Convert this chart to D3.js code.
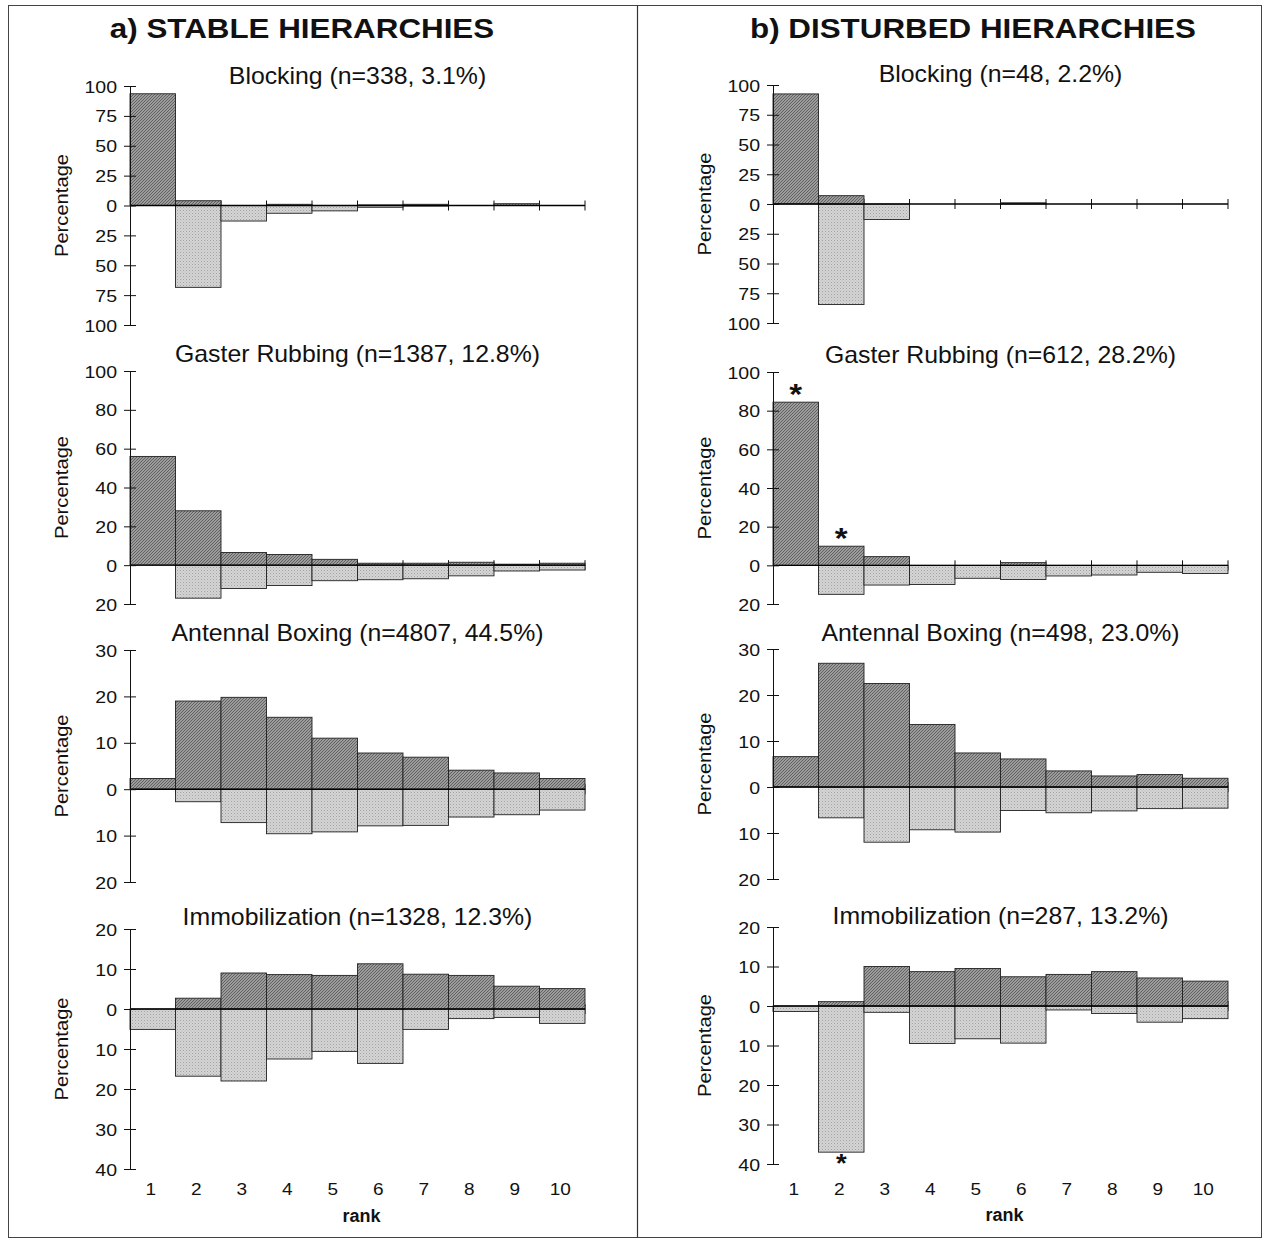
<!DOCTYPE html>
<html><head><meta charset="utf-8">
<script src="https://cdn.jsdelivr.net/npm/d3@7"></script>
<style>
html,body{margin:0;padding:0;background:#fff;}
text{font-family:"Liberation Sans",Arial,sans-serif;fill:#111;}
</style></head>
<body>
<svg id="chart" width="1266" height="1241"></svg>
<script>
// ---------- DATA ----------
const ranks = ["1","2","3","4","5","6","7","8","9","10"];
const columnTitles = ["a) STABLE HIERARCHIES", "b) DISTURBED HIERARCHIES"];
const panelTitlesStable = ["Blocking (n=338, 3.1%)", "Gaster Rubbing (n=1387, 12.8%)", "Antennal Boxing (n=4807, 44.5%)", "Immobilization (n=1328, 12.3%)"];
const panelTitlesDisturbed = ["Blocking (n=48, 2.2%)", "Gaster Rubbing (n=612, 28.2%)", "Antennal Boxing (n=498, 23.0%)", "Immobilization (n=287, 13.2%)"];

// upward (performed, dark) and downward (received, light) percentages by rank
const blockingStableUp   = [93.5, 4, 0, 1, 0, 0.5, 1, 0, 1.5, 0];
const blockingStableDown = [0, 68.5, 13, 6.5, 4.5, 1.5, 0.5, 0, 0, 0];
const gasterStableUp     = [56, 28, 6.5, 5.5, 3, 1, 1, 1.5, 0.5, 1];
const gasterStableDown   = [0, 17, 12, 10.5, 8, 7.5, 7, 5.5, 3, 2.5];
const antennalStableUp   = [2.3, 19, 19.8, 15.5, 11, 7.8, 6.9, 4.1, 3.5, 2.3];
const antennalStableDown = [0, 2.7, 7.2, 9.6, 9.2, 7.9, 7.8, 6, 5.5, 4.5];
const immobStableUp      = [0, 2.7, 9, 8.6, 8.4, 11.3, 8.7, 8.4, 5.7, 5.1];
const immobStableDown    = [5.1, 16.8, 18, 12.5, 10.6, 13.6, 5.1, 2.4, 2.1, 3.6];

const blockingDistUp     = [92.5, 7, 0, 0, 0, 1, 0, 0, 0, 0];
const blockingDistDown   = [0, 84.5, 13, 0, 0, 0, 0, 0, 0, 0];
const gasterDistUp       = [84.4, 9.9, 4.5, 0, 0, 1.4, 0, 0, 0, 0];
const gasterDistDown     = [0, 15, 10.2, 9.9, 6.7, 7.3, 5.5, 5, 3.6, 4.2];
const antennalDistUp     = [6.6, 26.9, 22.5, 13.6, 7.4, 6.1, 3.5, 2.4, 2.7, 1.9];
const antennalDistDown   = [0, 6.7, 12, 9.3, 9.8, 5.1, 5.6, 5.2, 4.7, 4.6];
const immobDistUp        = [0, 1.1, 10, 8.7, 9.5, 7.4, 8, 8.7, 7.1, 6.3];
const immobDistDown      = [1.4, 37, 1.6, 9.5, 8.3, 9.4, 1, 1.9, 4.1, 3.2];

// y-axis tick labels per row (positive above zero, negative below)
const ticksBlocking = [100, 75, 50, 25, 0, -25, -50, -75, -100];
const ticksGaster   = [100, 80, 60, 40, 20, 0, -20];
const ticksAntennal = [30, 20, 10, 0, -10, -20];
const ticksImmob    = [20, 10, 0, -10, -20, -30, -40];

// significance markers: [panel index, rank, side]
const starsDisturbed = [[1, "1", "up"], [1, "2", "up"], [3, "2", "down"]];

// ---------- LAYOUT ----------
const svg = d3.select("#chart");

function txt(g, x, y, s, size, opts = {}) {
  const t = g.append("text")
    .attr("transform", `translate(${x},${y})` + (opts.rotate ? ` rotate(${opts.rotate})` : "") + ` scale(${opts.sx || 1.12},1)`)
    .attr("text-anchor", opts.anchor || "middle")
    .attr("font-size", size)
    .attr("font-weight", opts.weight || "normal")
    .text(s);
  if (opts.baseline) t.attr("dominant-baseline", opts.baseline);
  return t;
}

// patterns
const defs = svg.append("defs");
const pd = defs.append("pattern").attr("id", "dark").attr("patternUnits", "userSpaceOnUse")
  .attr("width", 3).attr("height", 3);
pd.append("rect").attr("width", 3).attr("height", 3).attr("fill", "#9c9c9c");
pd.append("path").attr("d", "M0,3 L3,0 M-1,1 L1,-1 M2,4 L4,2").attr("stroke", "#5a5a5a").attr("stroke-width", 0.9);
const pl = defs.append("pattern").attr("id", "light").attr("patternUnits", "userSpaceOnUse")
  .attr("width", 3).attr("height", 3);
pl.append("rect").attr("width", 3).attr("height", 3).attr("fill", "#d4d4d4");
pl.append("rect").attr("x", 0).attr("y", 0).attr("width", 1).attr("height", 1).attr("fill", "#a3a3a3");
pl.append("rect").attr("x", 1.5).attr("y", 1.5).attr("width", 1).attr("height", 1).attr("fill", "#bbbbbb");

// frame
svg.append("rect").attr("x", 8.5).attr("y", 5.5).attr("width", 1253).attr("height", 1232)
  .attr("fill", "none").attr("stroke", "#444").attr("stroke-width", 1);
svg.append("line").attr("x1", 637.5).attr("x2", 637.5).attr("y1", 5.5).attr("y2", 1237.5)
  .attr("stroke", "#333").attr("stroke-width", 1.2);

const columns = [
  { axisX: 130, titleX: 302, title: columnTitles[0], subtitles: panelTitlesStable,
    subY: [84, 362, 641, 925],
    rows: [
      { top: 86, bottom: 325, ticks: ticksBlocking, up: blockingStableUp, down: blockingStableDown },
      { top: 371, bottom: 604, ticks: ticksGaster, up: gasterStableUp, down: gasterStableDown },
      { top: 650, bottom: 882, ticks: ticksAntennal, up: antennalStableUp, down: antennalStableDown },
      { top: 929, bottom: 1169, ticks: ticksImmob, up: immobStableUp, down: immobStableDown }],
    stars: [], labelY: 1195, rankY: 1222 },
  { axisX: 773, titleX: 973, title: columnTitles[1], subtitles: panelTitlesDisturbed,
    subY: [82, 363, 641, 924],
    rows: [
      { top: 85, bottom: 323, ticks: ticksBlocking, up: blockingDistUp, down: blockingDistDown },
      { top: 372, bottom: 604, ticks: ticksGaster, up: gasterDistUp, down: gasterDistDown },
      { top: 649, bottom: 879, ticks: ticksAntennal, up: antennalDistUp, down: antennalDistDown },
      { top: 927, bottom: 1164, ticks: ticksImmob, up: immobDistUp, down: immobDistDown }],
    stars: starsDisturbed, labelY: 1195, rankY: 1221 }
];
const plotW = 455;

columns.forEach(col => {
  const g = svg.append("g");
  txt(g, col.titleX, 38, col.title, 28, { weight: "bold", sx: 1.12 });
  const x = d3.scaleBand().domain(ranks).range([col.axisX, col.axisX + plotW]).paddingInner(0).paddingOuter(0);
  const xb = d3.scaleLinear().domain([0, ranks.length]).range([col.axisX, col.axisX + plotW]);

  col.rows.forEach((r, ri) => {
    const tmax = d3.max(r.ticks), tmin = d3.min(r.ticks);
    const y = d3.scaleLinear().domain([tmin, tmax]).range([r.bottom, r.top]);
    const pg = g.append("g");
    txt(pg, col.axisX + plotW / 2, col.subY[ri], col.subtitles[ri], 23, { sx: 1.08 });

    // x boundary ticks on zero line
    pg.selectAll("line.xt").data(d3.range(1, ranks.length + 1)).join("line")
      .attr("x1", d => xb(d)).attr("x2", d => xb(d))
      .attr("y1", y(0) - 5).attr("y2", y(0) + 5)
      .attr("stroke", "#111").attr("stroke-width", 1);

    const rows = ranks.map((k, i) => ({ k, up: r.up[i], down: r.down[i] }));
    // downward bars (light)
    pg.selectAll("rect.dn").data(rows.filter(d => d.down > 0)).join("rect")
      .attr("x", d => x(d.k)).attr("width", x.bandwidth())
      .attr("y", y(0)).attr("height", d => y(-d.down) - y(0))
      .attr("fill", "url(#light)").attr("stroke", "#222").attr("stroke-width", 0.9);
    // upward bars (dark)
    pg.selectAll("rect.up").data(rows.filter(d => d.up > 0)).join("rect")
      .attr("x", d => x(d.k)).attr("width", x.bandwidth())
      .attr("y", d => y(d.up)).attr("height", d => y(0) - y(d.up))
      .attr("fill", "url(#dark)").attr("stroke", "#222").attr("stroke-width", 0.9);

    // zero line
    pg.append("line").attr("x1", col.axisX).attr("x2", col.axisX + plotW)
      .attr("y1", y(0)).attr("y2", y(0)).attr("stroke", "#000").attr("stroke-width", 1.4);

    // y axis
    const ax = d3.axisLeft(y).tickValues(r.ticks).tickFormat(d => Math.abs(d)).tickSize(6).tickSizeOuter(0).tickPadding(8);
    const ag = pg.append("g").attr("transform", `translate(${col.axisX},0)`).call(ax);
    ag.select(".domain").attr("stroke", "#111").attr("stroke-width", 1);
    ag.selectAll(".tick line").attr("x2", 6).attr("x1", -6).attr("stroke", "#111");
    ag.selectAll(".tick text").each(function (d) {
      d3.select(this).attr("x", null).attr("dy", null)
        .attr("transform", `translate(-13,6) scale(1.15,1)`)
        .attr("font-size", 17).attr("text-anchor", "end")
        .attr("font-family", '"Liberation Sans", Arial, sans-serif').attr("fill", "#111");
    });

    txt(pg, col.axisX - 67, (r.top + r.bottom) / 2, "Percentage", 18, { rotate: -90, baseline: "middle", sx: 1.12 });

    // stars
    col.stars.filter(s => s[0] === ri).forEach(s => {
      const i = ranks.indexOf(s[1]);
      const yy = s[2] === "up" ? y(r.up[i]) + 2 : y(-r.down[i]) + 20;
      txt(pg, x(s[1]) + x.bandwidth() / 2, yy, "*", s[2] === "up" ? 30 : 25, { weight: "bold", sx: 1.1 });
    });

    if (ri === col.rows.length - 1) {
      pg.selectAll("text.xl").data(ranks).join("text")
        .attr("transform", d => `translate(${x(d) + x.bandwidth() / 2 - 2},${col.labelY}) scale(1.12,1)`)
        .attr("text-anchor", "middle").attr("font-size", 17).text(d => d);
      txt(pg, col.axisX + plotW / 2 + 4, col.rankY, "rank", 18, { weight: "bold", sx: 1.0 });
    }
  });
});
</script>
</body></html>
